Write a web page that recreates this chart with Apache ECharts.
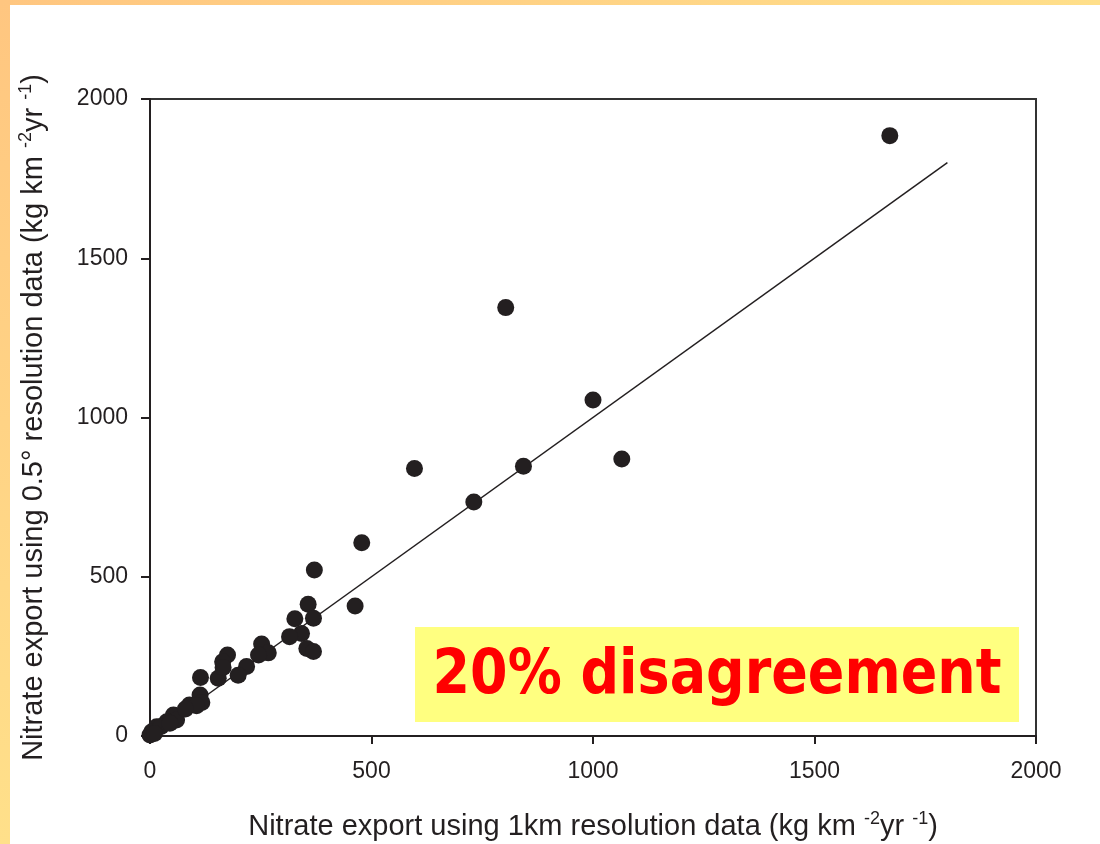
<!DOCTYPE html>
<html>
<head>
<meta charset="utf-8">
<script src="https://cdn.jsdelivr.net/npm/echarts@6/dist/echarts.min.js"></script>
<style>
  html, body { margin: 0; padding: 0; background: #ffffff; }
  #chart { width: 1100px; height: 844px; }
</style>
</head>
<body>
<div id="chart"></div>
<script>
// 1km-resolution export (x) vs 0.5° resolution export (y), kg km-2 yr-1
const xVals = [1670, 803, 1000, 1065, 843, 597, 731, 478, 371, 463, 357, 369, 327, 342, 315, 354, 369,
               252, 267, 245, 175, 164, 218, 199, 154, 114, 113, 117, 89, 53, 60, 38, 15, 4, 0,
               165, 105, 80, 25, 10, 45];
const yVals = [1885, 1345, 1055, 870, 847, 840, 735, 607, 521, 408, 414, 370, 368, 322, 312, 275, 265,
               289, 261, 254, 254, 233, 218, 191, 181, 184, 129, 105, 97, 66, 50, 45, 29, 13, 3,
               215, 95, 85, 30, 8, 40];
// 1:1 reference line
const lineX = [0, 1800];
const lineY = [0, 1800];
const xName = '{n|Nitrate export using 1km resolution data (kg km }{s|-2}{n|yr }{s|-1}{n|)}';
const yName = '{n|Nitrate export using 0.5° resolution data (kg km }{s|-2}{n|yr }{s|-1}{n|)}';
const annotation = '20% disagreement';

const points = xVals.map((x, i) => [x, yVals[i]]);
const linePts = lineX.map((x, i) => [x, lineY[i]]);

const nameRich = {
  n: { fontSize: 29, fontFamily: 'Liberation Sans', color: '#231f20', lineHeight: 34 },
  s: { fontSize: 18, fontFamily: 'Liberation Sans', color: '#231f20', verticalAlign: 'top', lineHeight: 34 }
};

const chart = echarts.init(document.getElementById('chart'), null, { renderer: 'canvas' });
chart.setOption({
  backgroundColor: '#ffffff',
  animation: false,
  grid: { left: 150, right: 64, top: 99, bottom: 108, containLabel: false, outerBoundsMode: 'none',
          show: true, borderColor: '#333333', borderWidth: 2, backgroundColor: 'transparent' },
  xAxis: {
    type: 'value', min: 0, max: 2000, interval: 500,
    name: xName, nameLocation: 'middle', nameGap: 74,
    nameTextStyle: { rich: nameRich },
    axisLine: { show: true, lineStyle: { color: '#231f20', width: 2 } },
    axisTick: { show: true, inside: false, length: 8, lineStyle: { color: '#231f20', width: 2 } },
    axisLabel: { margin: 24, fontSize: 23, fontFamily: 'Liberation Sans', color: '#231f20', formatter: v => String(v) },
    splitLine: { show: false }
  },
  yAxis: {
    type: 'value', min: 0, max: 2000, interval: 500,
    name: yName, nameLocation: 'middle', nameGap: 99,
    nameTextStyle: { rich: nameRich },
    axisLine: { show: true, lineStyle: { color: '#231f20', width: 2 } },
    axisTick: { show: true, inside: false, length: 9, lineStyle: { color: '#231f20', width: 2 } },
    axisLabel: { margin: 22, fontSize: 23, fontFamily: 'Liberation Sans', color: '#231f20', formatter: v => String(v) },
    splitLine: { show: false }
  },
  series: [
    {
      type: 'line', data: linePts, symbol: 'none', silent: true,
      lineStyle: { color: '#231f20', width: 1.5 }, z: 2
    },
    {
      type: 'scatter', data: points, symbol: 'circle', symbolSize: 17,
      itemStyle: { color: '#231f20', opacity: 1 }, z: 3
    }
  ],
  graphic: [
    {
      type: 'rect', left: 0, top: 0, z: 100,
      shape: { x: 0, y: 0, width: 1100, height: 5 },
      style: { fill: new echarts.graphic.LinearGradient(0, 0, 1, 0, [
        { offset: 0, color: '#ffc680' }, { offset: 1, color: '#ffdf8a' }]) }
    },
    {
      type: 'rect', left: 0, top: 0, z: 100,
      shape: { x: 0, y: 0, width: 10, height: 844 },
      style: { fill: new echarts.graphic.LinearGradient(0, 0, 0, 1, [
        { offset: 0, color: '#ffc680' }, { offset: 1, color: '#ffe08a' }]) }
    },
    {
      type: 'group', left: 415, top: 627, z: 50,
      children: [
        { type: 'rect', shape: { x: 0, y: 0, width: 604, height: 95 }, style: { fill: '#ffff80' } },
        {
          type: 'text', x: 302, y: 50, scaleX: 0.87,
          style: {
            text: annotation, fill: '#ff0000',
            font: 'bold 62px "DejaVu Sans"',
            align: 'center', verticalAlign: 'middle'
          }
        }
      ]
    }
  ]
});
</script>
</body>
</html>
